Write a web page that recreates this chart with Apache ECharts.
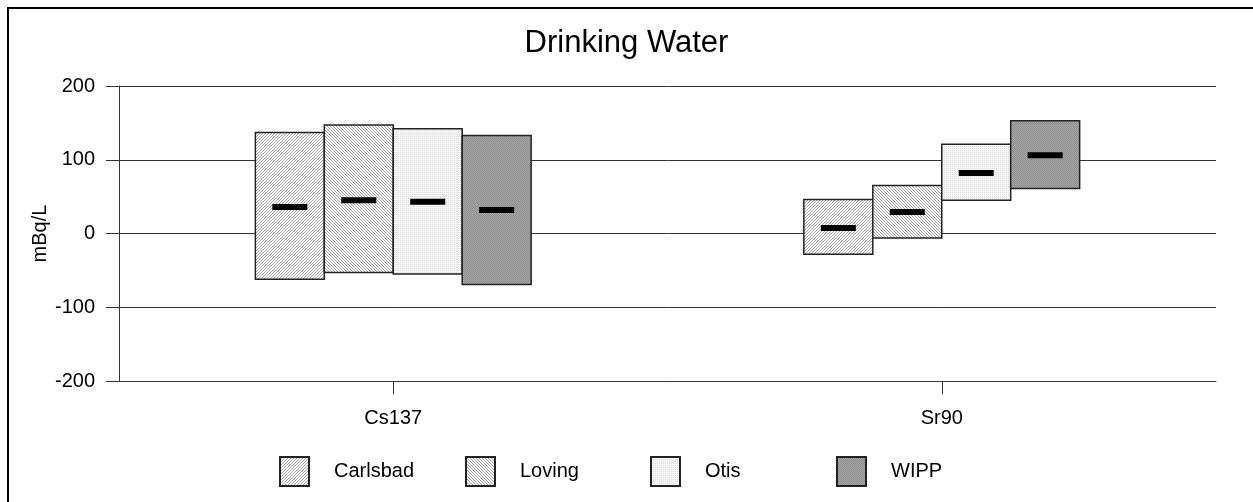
<!DOCTYPE html>
<html>
<head>
<meta charset="utf-8">
<script src="https://cdn.jsdelivr.net/npm/echarts@6/dist/echarts.min.js"></script>
<style>
  html, body {margin: 0; padding: 0; background: #fff;}
  #chart {width: 1253px; height: 502px;}
</style>
</head>
<body>
<div id="chart"></div>
<script>
// data (mBq/L)
const categories = ['Cs137', 'Sr90'];
const sites = ['Carlsbad', 'Loving', 'Otis', 'WIPP'];

const carlsbadLow = [-62, -28];
const carlsbadHigh = [137, 46];
const carlsbadMean = [36, 7.5];

const lovingLow = [-53, -6];
const lovingHigh = [147, 65];
const lovingMean = [45, 29];

const otisLow = [-55, 45];
const otisHigh = [142, 121];
const otisMean = [43, 82];

const wippLow = [-69, 61];
const wippHigh = [133, 153];
const wippMean = [32, 106];

const yTicks = [-200, -100, 0, 100, 200];

const lows = [carlsbadLow, lovingLow, otisLow, wippLow];
const highs = [carlsbadHigh, lovingHigh, otisHigh, wippHigh];
const means = [carlsbadMean, lovingMean, otisMean, wippMean];

const FONT = '"Liberation Sans", Arial, sans-serif';

// small canvas fills that stand in for the excel hatch patterns
function pattern(size, bg, fg, test) {
  const c = document.createElement('canvas');
  c.width = size;
  c.height = size;
  const ctx = c.getContext('2d');
  ctx.fillStyle = bg;
  ctx.fillRect(0, 0, size, size);
  ctx.fillStyle = fg;
  for (let x = 0; x < size; x++) {
    for (let y = 0; y < size; y++) {
      if (test(x, y)) ctx.fillRect(x, y, 1, 1);
    }
  }
  return {image: c, repeat: 'repeat'};
}

const fills = [
  pattern(3, '#ffffff', '#a4a4a4', (x, y) => (x + y) % 3 === 2),
  pattern(3, '#ffffff', '#a0a0a0', (x, y) => (x - y + 3) % 3 === 0),
  pattern(4, '#f5f5f5', '#e0e0e0', (x, y) => (x + y) % 2 === 0 && y % 2 === 0),
  pattern(2, '#a8a8a8', '#8c8c8c', (x, y) => (x + y) % 2 === 0)
];

function renderFor(idx) {
  return function (params, api) {
    const cat = api.value(0);
    const band = api.size([1, 0])[0];
    const w = band * 0.1257;
    const cx = api.coord([cat, 0])[0];
    const x = cx + (idx - 2) * w;
    const top = api.coord([cat, api.value(2)])[1];
    const bot = api.coord([cat, api.value(1)])[1];
    const my = api.coord([cat, api.value(3)])[1];
    return {
      type: 'group',
      children: [
        {type: 'rect', shape: {x: x, y: top, width: w, height: bot - top}, style: api.style()},
        {type: 'rect', shape: {x: x + w / 2 - 17.5, y: my - 3, width: 35, height: 6}, style: {fill: '#000'}}
      ]
    };
  };
}

const legendLeft = [279, 465, 650, 836];

const chart = echarts.init(document.getElementById('chart'), null, {renderer: 'canvas'});
chart.setOption({
  animation: false,
  backgroundColor: '#fff',
  textStyle: {fontFamily: FONT},
  title: {
    text: 'Drinking Water',
    left: 'center',
    top: 28,
    padding: 0,
    textStyle: {fontFamily: FONT, fontSize: 31, fontWeight: 'normal', color: '#000'}
  },
  graphic: [{
    type: 'rect',
    shape: {x: 8, y: 8, width: 3000, height: 3000},
    style: {fill: null, stroke: '#000', lineWidth: 2},
    silent: true
  }],
  legend: sites.map((name, i) => ({
    data: [name],
    left: legendLeft[i],
    top: 456,
    padding: 0,
    icon: 'rect',
    itemWidth: 29,
    itemHeight: 29,
    selectedMode: false,
    textStyle: {fontFamily: FONT, fontSize: 20, color: '#000', padding: [0, 0, 0, 20]}
  })),
  grid: {left: 119, right: 37, top: 86, bottom: 121, containLabel: false},
  xAxis: {
    type: 'category',
    data: categories,
    axisLine: {onZero: false, lineStyle: {color: '#333', width: 1}},
    axisTick: {show: true, alignWithLabel: true, length: 13, lineStyle: {color: '#333'}},
    axisLabel: {fontFamily: FONT, fontSize: 20, color: '#000', margin: 27},
    splitLine: {show: false}
  },
  yAxis: {
    type: 'value',
    min: yTicks[0],
    max: yTicks[yTicks.length - 1],
    interval: 100,
    name: 'mBq/L',
    nameLocation: 'middle',
    nameRotate: 90,
    nameGap: 69,
    nameMoveOverlap: false,
    nameTextStyle: {fontFamily: FONT, fontSize: 20, color: '#000'},
    axisLine: {show: true, lineStyle: {color: '#333', width: 1}},
    axisTick: {show: true, length: 13, lineStyle: {color: '#333'}},
    axisLabel: {fontFamily: FONT, fontSize: 20, color: '#000', margin: 24},
    splitLine: {show: true, lineStyle: {color: '#333', width: 1}}
  },
  series: sites.map((name, i) => ({
    name: name,
    type: 'custom',
    renderItem: renderFor(i),
    encode: {x: 0, y: [1, 2, 3]},
    itemStyle: {color: fills[i], borderColor: '#222', borderWidth: 1.5},
    data: categories.map((c, k) => [k, lows[i][k], highs[i][k], means[i][k]]),
    z: 2
  }))
});
</script>
</body>
</html>
